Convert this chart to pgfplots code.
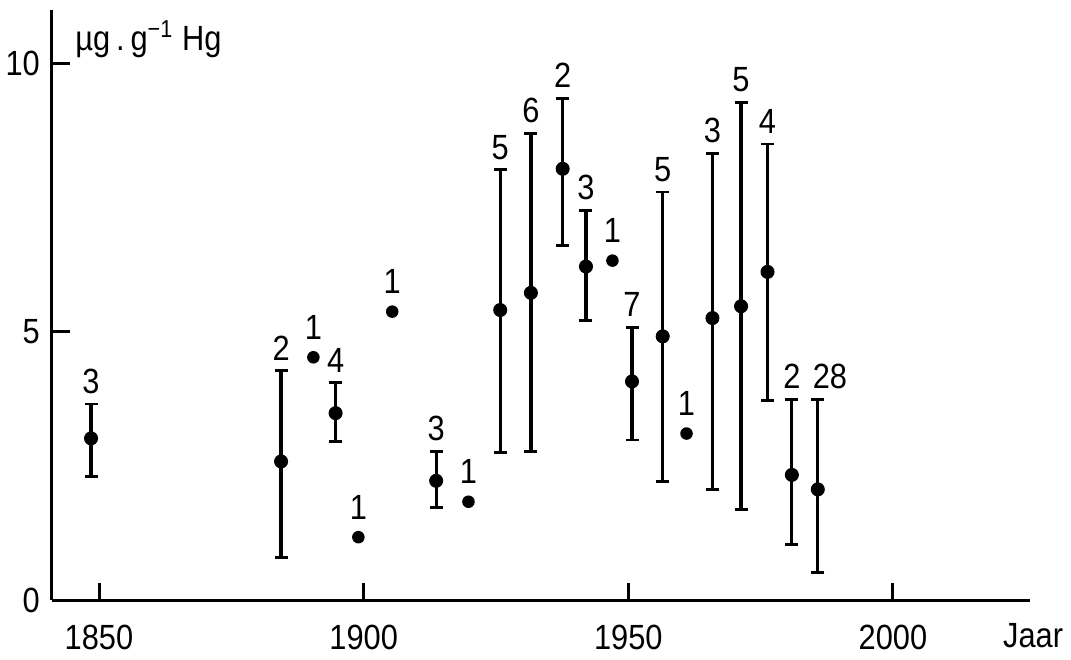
\documentclass[border=0pt]{standalone}
\usepackage{fontspec}
\setmainfont{Liberation Sans}[FakeStretch=0.88]
\usepackage{pgfplots}
\usepackage{pgfplotstable}
\pgfplotsset{compat=1.18}

% mean, top and bottom of the range, number of samples, where its count is written
\pgfplotstableread{
year   val  top  bot  n  lx
1848.5 3.01 3.65 2.30 3  1848.5
1884.4 2.58 4.27 0.79 2  1884.4
1894.7 3.48 4.05 2.95 4  1894.7
1913.7 2.22 2.76 1.72 3  1913.7
1925.8 5.40 8.01 2.74 5  1925.8
1931.6 5.72 8.69 2.77 6  1931.6
1937.6 8.03 9.34 6.60 2  1937.6
1942.0 6.21 7.26 5.21 3  1942.0
1950.7 4.07 5.08 2.98 7  1950.7
1956.5 4.91 7.60 2.20 5  1956.5
1965.9 5.25 8.31 2.06 3  1965.9
1971.3 5.47 9.26 1.69 5  1971.3
1976.3 6.11 8.49 3.72 4  1976.3
1980.9 2.33 3.74 1.04 2  1980.9
1985.8 2.06 3.74 0.51 28 1988.1
}\bars

% single samples
\pgfplotstableread{
year   val  n
1890.5 4.52 1
1899.0 1.17 1
1905.4 5.37 1
1919.8 1.83 1
1947.0 6.32 1
1961.0 3.10 1
}\singles

\begin{document}
\fontsize{14}{16}\selectfont
\begin{tikzpicture}
\path[use as bounding box] (-20.8pt,-23.6pt) rectangle (407.6pt,240pt);
\begin{axis}[
  at={(0,0)}, anchor=south west,
  scale only axis, width=391.2pt, height=236pt,
  xmin=1841.12, xmax=2025.89, ymin=0, ymax=10.987,
  axis x line*=bottom, axis y line*=left,
  axis line style={line width=1.2pt},
  tick align=inside, major tick length=7pt,
  tick style={black, line width=1.2pt},
  xtick={1850,1900,1950,2000}, xticklabels={1850,1900,1950,2000},
  ytick={0,5,10}, yticklabels={0,5,10},
  /pgf/number format/assume math mode=true,
  xticklabel shift=5pt,
  xlabel={Jaar},
  xlabel style={at={(rel axis cs:0.972,-0.081)}, anchor=base west, inner sep=0pt},
  ylabel={µg\,.\,g\textsuperscript{−1} Hg},
  ylabel style={at={(rel axis cs:0.0235,0.932)}, anchor=base west, rotate=-90, inner sep=0pt},
  clip=false,
]
\addplot[black, only marks, mark=*, mark size=2.6pt, mark options={fill=black},
  error bars/.cd, y dir=both, y explicit,
  error bar style={line width=1.3pt},
  error mark options={rotate=90, line width=1.1pt, mark size=2.6pt}]
  table[x=year, y=val,
    y error plus expr=\thisrow{top}-\thisrow{val},
    y error minus expr=\thisrow{val}-\thisrow{bot}] {\bars};
\addplot[black, only marks, mark=*, mark size=2.3pt, mark options={fill=black}]
  table[x=year, y=val] {\singles};

% sample counts
\addplot[draw=none, mark=none, nodes near coords, point meta=explicit symbolic,
  every node near coord/.append style={anchor=south, inner sep=0pt, yshift=4pt}]
  table[x=lx, y=top, meta=n] {\bars};
\addplot[draw=none, mark=none, nodes near coords, point meta=explicit symbolic,
  every node near coord/.append style={anchor=south, inner sep=0pt, yshift=7pt}]
  table[x=year, y=val, meta=n] {\singles};
\end{axis}
\end{tikzpicture}
\end{document}
